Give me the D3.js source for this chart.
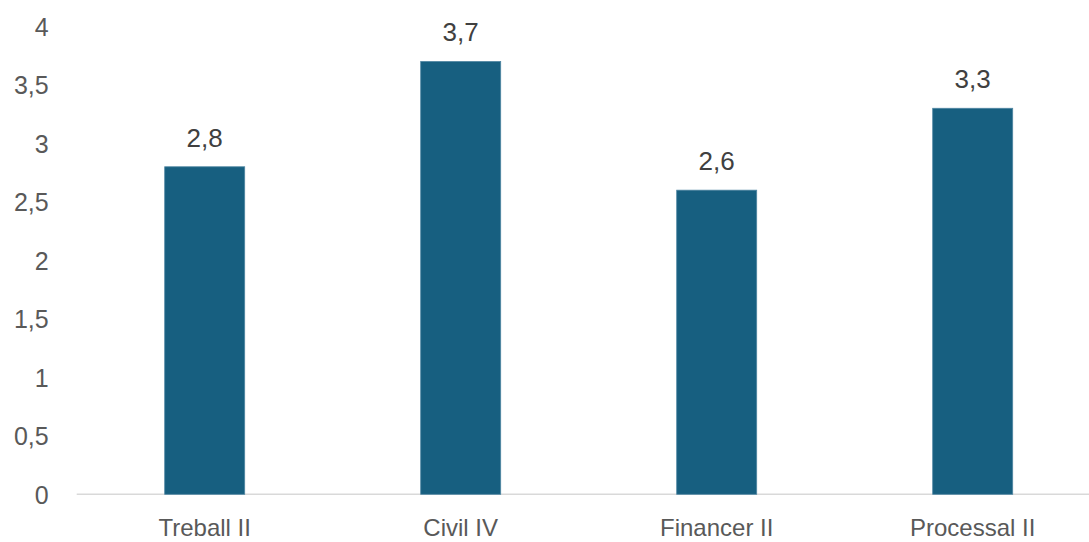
<!DOCTYPE html>
<html>
<head>
<meta charset="utf-8">
<style>
  body { margin: 0; background: #fff; }
  svg { display: block; font-family: "Liberation Sans", Arial, sans-serif; }
  .tick text { fill: #595959; font-size: 25px; }
  .cat text { fill: #595959; font-size: 24px; }
  .label { fill: #404040; font-size: 26px; }
</style>
</head>
<body>
<script src="https://cdn.jsdelivr.net/npm/d3@7"></script>
<script>
  // chart data
  var categories = ["Treball II", "Civil IV", "Financer II", "Processal II"];
  var values = [2.8, 3.7, 2.6, 3.3];
  var yTicks = [0, 0.5, 1, 1.5, 2, 2.5, 3, 3.5, 4];

  var width = 1089, height = 542;
  var margin = {top: 26.4, right: -11.7, bottom: 47.7, left: 76.7};

  var svg = d3.select("body").append("svg")
      .attr("width", width)
      .attr("height", height);

  var x = d3.scaleBand()
      .domain(categories)
      .range([margin.left, width - margin.right])
      .paddingInner(0.6875)
      .paddingOuter(0.34375);

  var y = d3.scaleLinear()
      .domain([0, 4])
      .range([height - margin.bottom, margin.top]);

  var fmt = function(d) { return String(d).replace(".", ","); };

  // y axis labels, no line
  var yAxis = svg.append("g")
      .attr("transform", "translate(" + (margin.left - 28) + ",0)")
      .call(d3.axisLeft(y).tickValues(yTicks).tickFormat(fmt).tickSize(0).tickPadding(0));
  yAxis.select(".domain").remove();
  yAxis.selectAll("text").attr("dy", "0.35em");

  // baseline
  svg.append("line")
      .attr("x1", margin.left)
      .attr("x2", width)
      .attr("y1", y(0))
      .attr("y2", y(0))
      .attr("stroke", "#d9d9d9")
      .attr("stroke-width", 1.5);

  // bars
  svg.append("g")
    .selectAll("rect")
    .data(values)
    .join("rect")
      .attr("x", (d, i) => x(categories[i]))
      .attr("y", d => y(d))
      .attr("width", x.bandwidth())
      .attr("height", d => y(0) - y(d))
      .attr("fill", "#175f80")
      .attr("stroke", "#4f86a2")
      .attr("stroke-width", 0.8);

  // value labels
  svg.append("g")
    .selectAll("text")
    .data(values)
    .join("text")
      .attr("class", "label")
      .attr("x", (d, i) => x(categories[i]) + x.bandwidth() / 2)
      .attr("y", d => y(d) - 20)
      .attr("text-anchor", "middle")
      .text(fmt);

  // category labels
  svg.append("g")
      .attr("class", "cat")
    .selectAll("text")
    .data(categories)
    .join("text")
      .attr("x", d => x(d) + x.bandwidth() / 2)
      .attr("y", 536)
      .attr("text-anchor", "middle")
      .text(d => d);
</script>
</body>
</html>
